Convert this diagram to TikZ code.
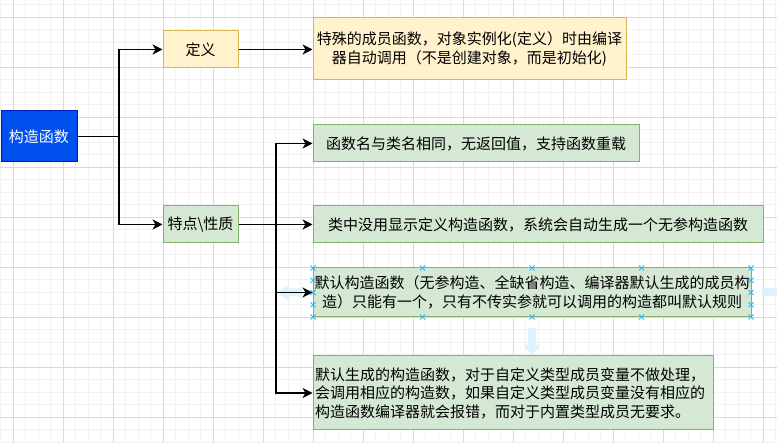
\documentclass[tikz,border=0pt]{standalone}
\usepackage{fontspec}
\setmainfont{Noto Sans CJK SC}
\usetikzlibrary{arrows.meta}
\definecolor{dioblue}{HTML}{0050EF}
\definecolor{diobluel}{HTML}{001DBC}
\definecolor{yfill}{HTML}{FFF2CC}
\definecolor{yline}{HTML}{D6B656}
\definecolor{gfill}{HTML}{D5E8D4}
\definecolor{gline}{HTML}{82B366}
\definecolor{gridmajor}{HTML}{DADADA}
\definecolor{gridminor}{HTML}{F2F2F2}
\definecolor{handle}{HTML}{29B6F2}
\definecolor{hover}{HTML}{DDF2FD}
\begin{document}
\begin{tikzpicture}[x=1pt,y=-1pt,
  box/.style={draw, line width=1pt, inner sep=0pt, font=\fontsize{15}{18.5}\selectfont, align=center},
  bluebox/.style={box, fill=dioblue, draw=diobluel, text=white},
  ybox/.style={box, fill=yfill, draw=yline},
  gbox/.style={box, fill=gfill, draw=gline},
  conn/.style={line width=1.2pt, black},
  arr/.style={conn, -{Stealth[length=10pt,width=10pt,inset=3pt]}},
  hmark/.style={handle, line width=1pt},
  hoverarrow/.style={fill=hover, draw=none}
]
\useasboundingbox (0,0) rectangle (777,443);
\fill[white] (0,0) rectangle (777,443);
% grid
\foreach \i in {0,...,62} {
  \draw[gridminor, line width=1pt] (0.8+12.5*\i,0) -- (0.8+12.5*\i,443);
}
\foreach \i in {0,...,36} {
  \draw[gridminor, line width=1pt] (0,4.8+12.5*\i) -- (777,4.8+12.5*\i);
}
\foreach \i in {0,...,15} {
  \draw[gridmajor, line width=1pt] (13.3+50*\i,0) -- (13.3+50*\i,443);
}
\foreach \i in {0,...,8} {
  \draw[gridmajor, line width=1pt] (0,17.3+50*\i) -- (777,17.3+50*\i);
}
% hover arrows (editor artefacts)
\fill[hoverarrow] (302,288.5) -- (289,288.5) -- (289,284.5) -- (276,292.5) -- (289,300.5) -- (289,296.5) -- (302,296.5) -- cycle;
\fill[hoverarrow] (528,328) -- (536,328) -- (536,345) -- (540.5,345) -- (532,355) -- (523.5,345) -- (528,345) -- cycle;
\fill[hoverarrow] (762,288.5) rectangle (777,296.5);
% nodes
\node[bluebox, minimum width=76pt, minimum height=51pt] (ctor) at (39,136.5) {构造函数};
\node[ybox, minimum width=75pt, minimum height=37pt] (def) at (200.5,49.5) {定义};
\node[ybox, minimum width=313pt, minimum height=62pt] (defbox) at (469.5,49) {特殊的成员函数，对象实例化(定义）时由编译\\器自动调用（不是创建对象，而是初始化)};
\node[gbox, minimum width=75pt, minimum height=37pt] (feat) at (200.5,224.5) {特点\textbackslash 性质};
\node[gbox, minimum width=326pt, minimum height=37pt] (b1) at (476,143.5) {函数名与类名相同，无返回值，支持函数重载};
\node[gbox, minimum width=450pt, minimum height=37pt] (b2) at (538,224.5) {类中没用显示定义构造函数，系统会自动生成一个无参构造函数};
\node[gbox, minimum width=438pt, minimum height=49pt] (b3) at (532,292.5) {默认构造函数（无参构造、全缺省构造、编译器默认生成的成员构\\造）只能有一个，只有不传实参就可以调用的构造都叫默认规则};
\node[gbox, text width=396pt, inner xsep=2pt, minimum height=74pt, align=left] (b4) at (513,393) {默认生成的构造函数，对于自定义类型成员变量不做处理，\\会调用相应的构造数，如果自定义类型成员变量没有相应的\\构造函数编译器就会报错，而对于内置类型成员无要求。};
% connectors
\coordinate (j1) at (119,136.5);
\coordinate (j2) at (276,224.5);
\draw[conn] (ctor.east) -- (j1);
\draw[arr] (j1) |- (def.west);
\draw[arr] (j1) |- (feat.west);
\draw[arr] (def.east) -- (def.east -| defbox.west);
\draw[arr] (feat.east) -- (b2.west);
\draw[arr] (j2) |- (b1.west);
\draw[arr] (j2) |- (b3.west);
\draw[arr] (j2) |- (b4.west);
% selection handles on b3
\foreach \x in {313,422.5,532,641.5,751} {
  \foreach \y in {268,317} {
    \draw[hmark] (\x-2.5,\y-2.5) -- (\x+2.5,\y+2.5) (\x-2.5,\y+2.5) -- (\x+2.5,\y-2.5);
  }
}
\foreach \x in {313,751} {
  \foreach \y in {280.25,292.5,304.75} {
    \draw[hmark] (\x-2.5,\y-2.5) -- (\x+2.5,\y+2.5) (\x-2.5,\y+2.5) -- (\x+2.5,\y-2.5);
  }
}
\end{tikzpicture}
\end{document}
